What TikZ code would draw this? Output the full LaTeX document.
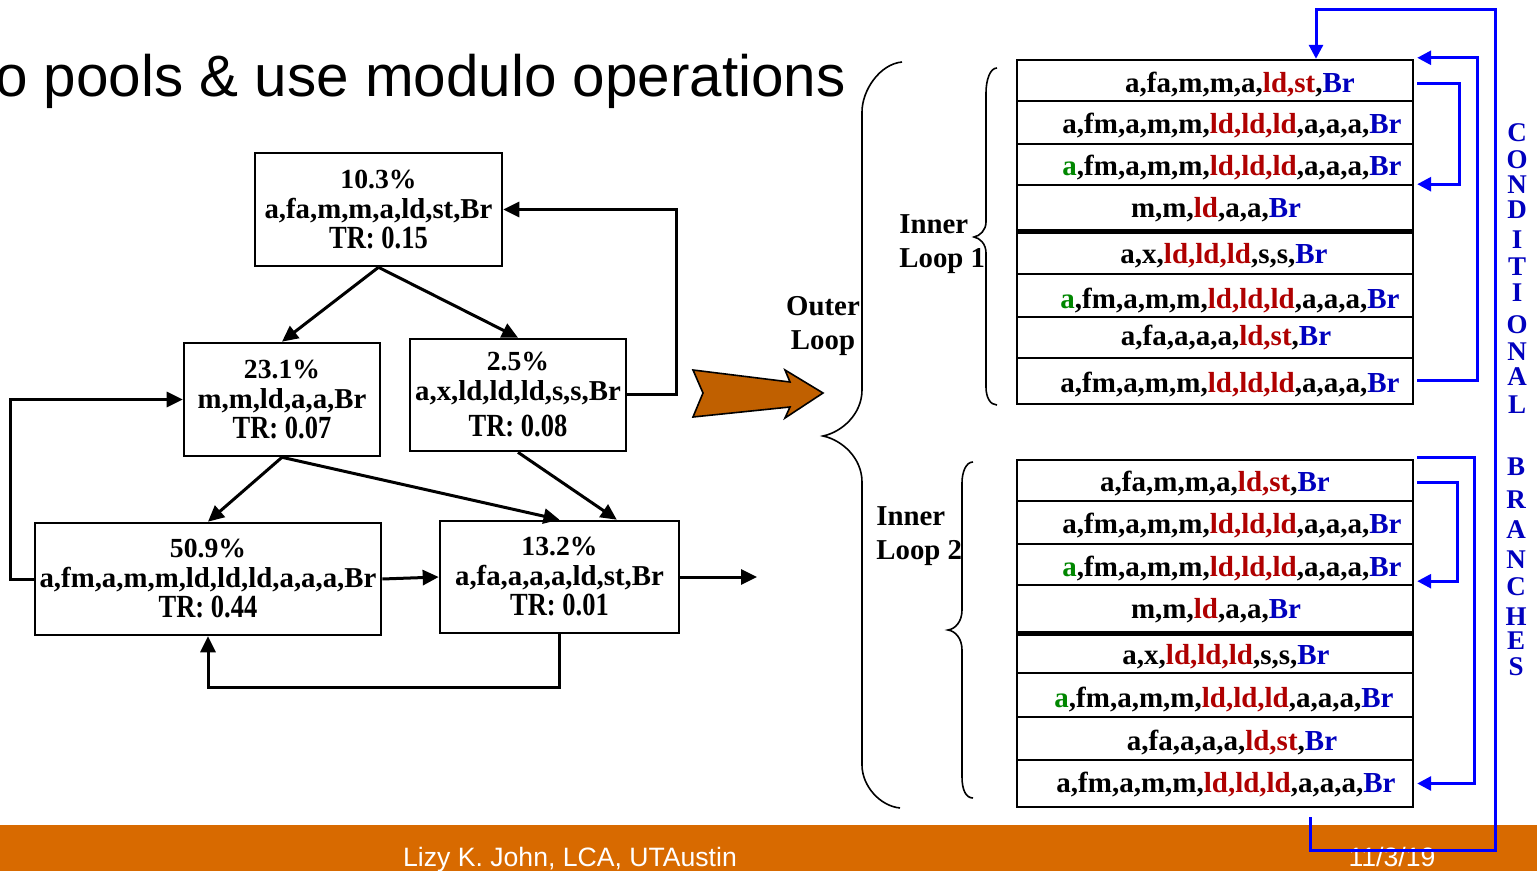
\documentclass[tikz,border=0pt]{standalone}
\usepackage{fontspec}
\usepackage{graphicx}
\setmainfont{Liberation Serif}
\newfontfamily\titlefont{Liberation Sans}
\usetikzlibrary{arrows.meta,calc}
\definecolor{ldred}{RGB}{175,0,0}
\definecolor{brblue}{RGB}{0,0,190}
\definecolor{agreen}{RGB}{0,135,0}
\definecolor{lineblue}{RGB}{0,0,255}
\definecolor{footorange}{RGB}{216,106,0}
\definecolor{bigarrow}{RGB}{192,96,0}
\newcommand{\myR}[1]{\textcolor{ldred}{#1}}
\newcommand{\myB}[1]{\textcolor{brblue}{#1}}
\newcommand{\myG}[1]{\textcolor{agreen}{#1}}
\newcommand{\pcl}[1]{\scalebox{0.96}{#1}}
\newcommand{\trl}[1]{\scalebox{0.92}[1.12]{#1}}
\newcommand{\rowA}{a,fa,m,m,a,\myR{ld,st},\myB{Br}}
\newcommand{\rowB}{a,fm,a,m,m,\myR{ld,ld,ld},a,a,a,\myB{Br}}
\newcommand{\rowC}{\myG{a},fm,a,m,m,\myR{ld,ld,ld},a,a,a,\myB{Br}}
\newcommand{\rowD}{m,m,\myR{ld},a,a,\myB{Br}}
\newcommand{\rowE}{a,x,\myR{ld,ld,ld},s,s,\myB{Br}}
\newcommand{\rowG}{a,fa,a,a,a,\myR{ld,st},\myB{Br}}
\begin{document}
\begin{tikzpicture}[x=0.5pt,y=-0.5pt,
 gbox/.style={draw, line width=1.3pt, inner sep=0pt, align=center, font=\bfseries\fontsize{14.4}{15}\selectfont},
 trow/.style={draw, line width=1.2pt, minimum width=198pt, inner sep=0pt},
 ttext/.style={anchor=base, inner sep=0pt, font=\bfseries\fontsize{14.5}{16}\selectfont},
 lbl/.style={inner sep=0pt, font=\bfseries\fontsize{14.4}{17}\selectfont},
 arr/.style={line width=1.5pt, -{Triangle[length=8pt,width=7.5pt]}},
 barr/.style={draw=lineblue, line width=1.5pt, -{Triangle[length=7pt,width=7pt]}},
 bracel/.style={line width=0.8pt},
 vlet/.style={text=brblue, font=\bfseries\fontsize{13.5}{14}\selectfont, inner sep=0pt},
 foottext/.style={anchor=base, text=white, inner sep=0pt, font=\titlefont\fontsize{13.3}{15}\selectfont}]

\useasboundingbox (0,0) rectangle (1537,871);
\clip (0,0) rectangle (1537,871);
\fill[white] (0,0) rectangle (1537,871);
\fill[footorange] (0,825) rectangle (1537,871);

% title
\node[anchor=base east, inner sep=0pt, font=\titlefont\fontsize{29.2}{31}\selectfont] (title) at (846,97) {o pools \& use modulo operations};

% left graph
\node[gbox, minimum width=123.5pt, minimum height=56.5pt] (A) at (378.5,209.5) {\pcl{10.3\%}\\a,fa,m,m,a,ld,st,Br\\\trl{TR: 0.15}};
\node[gbox, minimum width=98pt, minimum height=56.5pt] (B) at (282,399.5) {\pcl{23.1\%}\\m,m,ld,a,a,Br\\\trl{TR: 0.07}};
\node[gbox, minimum width=108pt, minimum height=56pt] (C) at (518,395) {\pcl{2.5\%}\\a,x,ld,ld,ld,s,s,Br\\[3pt]\trl{TR: 0.08}};
\node[gbox, minimum width=173pt, minimum height=56pt] (D) at (208,579) {\pcl{50.9\%}\\a,fm,a,m,m,ld,ld,ld,a,a,a,Br\\\trl{TR: 0.44}};
\node[gbox, minimum width=119.5pt, minimum height=56pt] (E) at (559.5,577) {\pcl{13.2\%}\\a,fa,a,a,a,ld,st,Br\\\trl{TR: 0.01}};
\coordinate (out) at (757,577);

\draw[arr] (A.south) -- (B.north);
\draw[arr] (A.south) -- (C.north);
\draw[arr] (C.east) -- ++(49,0) |- (A.east);
\draw[arr] (D.west) -- ++(-23,0) |- (B.west);
\draw[arr] (B.south) -- (D.north);
\draw[arr] (B.south) -- (E.north);
\draw[arr] (C.south) -- (E.45);
\draw[arr] (D.east) -- (E.west);
\draw[arr] (E.east) -- (out);
\draw[arr] (E.south) -- ++(0,53) -| (D.south);

% big orange arrow
\draw[fill=bigarrow, line width=0.8pt, line join=miter] (693,370) -- (790,382) -- (785,370) -- (823,393) -- (785,418) -- (790,407) -- (693,417) -- (703,393) -- cycle;

% braces
\draw[bracel] (902,62) .. controls (880,64) and (862,90) .. (862,112) -- (862,390) .. controls (862,414) and (842,432) .. (823,436) .. controls (842,440) and (862,458) .. (862,482) -- (862,765) .. controls (862,786) and (880,806) .. (900,808);
\draw[bracel] (997,68) .. controls (990,68) and (986,80) .. (986,93) -- (986,222) .. controls (986,230) and (980,236) .. (974,237) .. controls (980,238) and (986,244) .. (986,253) -- (986,387) .. controls (986,397) and (990,405) .. (997,405);
\draw[bracel] (973,462) .. controls (966,462) and (962,472) .. (962,483) -- (962,610) .. controls (962,622) and (955,629) .. (948,630) .. controls (955,631) and (962,638) .. (962,650) -- (962,777) .. controls (962,790) and (966,798) .. (973,798);

% loop labels
\node[lbl, align=center] (outer) at (823,326) {Outer\\Loop};
\node[lbl, align=left, anchor=west] (inner1) at (899,244) {Inner\\Loop 1};
\node[lbl, align=left, anchor=west] (inner2) at (876,536) {Inner\\Loop 2};

% table 1
\node[trow, minimum height=20.5pt] (t1r1) at (1215,80.5) {};
\node[trow, minimum height=21.5pt] (t1r2) at (1215,122.5) {};
\node[trow, minimum height=20.5pt] (t1r3) at (1215,164.5) {};
\node[trow, minimum height=22.5pt] (t1r4) at (1215,207.5) {};
\node[trow, minimum height=22pt] (t1r5) at (1215,252) {};
\node[trow, minimum height=21.5pt] (t1r6) at (1215,295.5) {};
\node[trow, minimum height=20.5pt] (t1r7) at (1215,337.5) {};
\node[trow, minimum height=23pt] (t1r8) at (1215,381) {};
\draw[line width=2.5pt] (t1r4.south west) -- (t1r4.south east);
\node[ttext] (x11) at (1240,93) {\rowA};
\node[ttext] (x12) at (1232,134) {\rowB};
\node[ttext] (x13) at (1232,176) {\rowC};
\node[ttext] (x14) at (1216,218) {\rowD};
\node[ttext] (x15) at (1224,264) {\rowE};
\node[ttext] (x16) at (1230,309) {\rowC};
\node[ttext] (x17) at (1226,346) {\rowG};
\node[ttext] (x18) at (1230,393) {\rowB};

% table 2
\node[trow, minimum height=20.5pt] (t2r1) at (1215,480.5) {};
\node[trow, minimum height=21.5pt] (t2r2) at (1215,522.5) {};
\node[trow, minimum height=20.5pt] (t2r3) at (1215,564.5) {};
\node[trow, minimum height=23.5pt] (t2r4) at (1215,608.5) {};
\node[trow, minimum height=20.5pt] (t2r5) at (1215,652.5) {};
\node[trow, minimum height=22pt] (t2r6) at (1215,695) {};
\node[trow, minimum height=21.5pt] (t2r7) at (1215,738.5) {};
\node[trow, minimum height=23.5pt] (t2r8) at (1215,783.5) {};
\draw[line width=2.5pt] (t2r4.south west) -- (t2r4.south east);
\node[ttext] (x21) at (1215,492) {\rowA};
\node[ttext] (x22) at (1232,533) {\rowB};
\node[ttext] (x23) at (1232,576) {\rowC};
\node[ttext] (x24) at (1216,618) {\rowD};
\node[ttext] (x25) at (1226,664) {\rowE};
\node[ttext] (x26) at (1224,707) {\rowC};
\node[ttext] (x27) at (1232,750) {\rowG};
\node[ttext] (x28) at (1226,792) {\rowB};

% vertical label
\foreach \l/\yy [count=\i] in {C/133,O/160,N/185,D/210,I/240,T/267,I/293,O/325,N/352,A/377,L/405}
  \node[vlet] (va\i) at (1517,\yy) {\l};
\foreach \l/\yy [count=\i] in {B/467,R/500,A/530,N/560,C/587,H/617,E/641,S/667}
  \node[vlet] (vb\i) at (1516,\yy) {\l};

% footer
\node[foottext] (foot) at (570,866) {Lizy K. John, LCA, UTAustin};
\node[foottext] (date) at (1392,866) {11/3/19};

% blue connectors
\draw[barr] ($(t1r1.east)+(3,3)$) -- ++(42,0) |- ($(t1r3.south east)+(3,-2)$);
\draw[barr] ($(t1r8.east)+(3,0)$) -- ++(60,0) |- ($(t1r1.north east)+(3,-1)$);
\draw[barr] ($(t2r1.north east)+(3,-1)$) -- ++(57,0) |- ($(t2r8.east)+(3,0)$);
\draw[barr] ($(t2r1.east)+(3,2.5)$) -- ++(40,0) |- ($(t2r3.south east)+(3,-5)$);
\coordinate (cb) at (1310,817);
\coordinate (cbr) at (1495,850);
\coordinate (cbt) at (1495,10);
\draw[barr] (cb) |- (cbr) -- (cbt) -| ($(t1r1.north)+(101,0)$);
\end{tikzpicture}
\end{document}
